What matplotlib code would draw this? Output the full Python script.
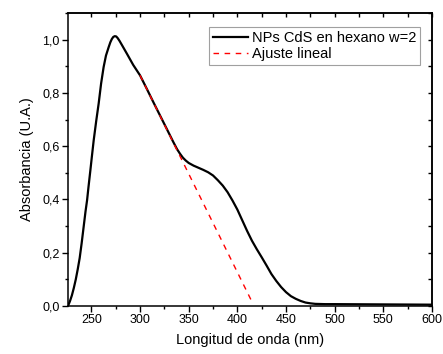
import numpy as np
import matplotlib
matplotlib.use("Agg")
import matplotlib.pyplot as plt
from matplotlib.ticker import MultipleLocator

plt.rcParams['font.family'] = ['Liberation Sans', 'DejaVu Sans']

# Espectro de absorcion
wavelength = [226, 228, 230, 232, 234, 236, 238, 240, 242, 244, 245.6, 247, 249, 250.5, 252.4,
              255, 257.5, 260, 262.6, 265, 267.8, 269.5, 271, 272.5, 274, 275.5, 277, 279,
              282, 286.7, 293, 300, 307, 314, 321, 328, 334, 336, 338, 341, 344, 347, 350,
              355, 360, 365, 370, 375, 380, 385, 390, 395, 400, 405, 410, 415, 420, 425,
              430, 435, 440, 445, 450, 455, 460, 465, 470, 475, 480, 490, 500, 550, 600]
absorbance = [0.0, 0.018, 0.04, 0.068, 0.10, 0.138, 0.18, 0.235, 0.295, 0.355, 0.397, 0.445,
              0.51, 0.56, 0.622, 0.695, 0.76, 0.835, 0.897, 0.94, 0.972, 0.99, 1.002, 1.01,
              1.013, 1.012, 1.006, 0.995, 0.976, 0.946, 0.905, 0.866, 0.815, 0.763, 0.712,
              0.661, 0.617, 0.603, 0.589, 0.572, 0.557, 0.546, 0.537, 0.527, 0.519, 0.511,
              0.502, 0.49, 0.472, 0.452, 0.427, 0.396, 0.362, 0.322, 0.282, 0.245, 0.213,
              0.183, 0.152, 0.12, 0.094, 0.071, 0.052, 0.037, 0.027, 0.019, 0.013, 0.010,
              0.008, 0.007, 0.007, 0.006, 0.005]

# Ajuste lineal (extremos)
fit_x = [300, 415]
fit_y = [0.866, 0.016]

xticks = [250, 300, 350, 400, 450, 500, 550, 600]
yticks = [0.0, 0.2, 0.4, 0.6, 0.8, 1.0]
ytick_labels = ['0,0', '0,2', '0,4', '0,6', '0,8', '1,0']

fig = plt.figure(figsize=(4.43, 3.54), dpi=100)
ax = fig.add_axes([0.1535, 0.1356, 0.8217, 0.8277])

ax.plot(wavelength, absorbance, color='black', lw=1.6, solid_joinstyle='round',
        label='NPs CdS en hexano w=2')
ax.plot(fit_x, fit_y, color='red', lw=1.0, ls=(0, (4, 4)), label='Ajuste lineal')

ax.set_xlim(226, 600)
ax.set_ylim(0, 1.1)
ax.set_xticks(xticks)
ax.set_yticks(yticks)
ax.set_yticklabels(ytick_labels)
ax.xaxis.set_minor_locator(MultipleLocator(25))
ax.yaxis.set_minor_locator(MultipleLocator(0.1))
ax.tick_params(which='major', direction='out', length=4, width=1, labelsize=9, pad=2)
ax.tick_params(which='minor', direction='out', length=2.5, width=1)

for s in ax.spines.values():
    s.set_linewidth(1.1)

# ejes espejo con marcas hacia dentro
top = ax.secondary_xaxis('top')
top.set_xticks(xticks)
top.xaxis.set_minor_locator(MultipleLocator(25))
top.tick_params(which='both', direction='in', length=3, width=1, labeltop=False)
top.spines['top'].set_linewidth(1.1)
right = ax.secondary_yaxis('right')
right.set_yticks(yticks)
right.yaxis.set_minor_locator(MultipleLocator(0.1))
right.tick_params(which='both', direction='in', length=3, width=1, labelright=False)
right.spines['right'].set_linewidth(1.1)

ax.set_xlabel('Longitud de onda (nm)', fontsize=10.5, labelpad=5)
ax.set_ylabel('Absorbancia (U.A.)', fontsize=10.5, labelpad=6)

leg = ax.legend(loc='upper right', bbox_to_anchor=(0.967, 0.952), borderaxespad=0,
                fancybox=False, edgecolor='#a0a0a0', fontsize=10.5, handlelength=2.4,
                handletextpad=0.3, borderpad=0.25, labelspacing=0.15, framealpha=1)
leg.get_frame().set_linewidth(0.8)

fig.savefig('out.png', dpi=100)
